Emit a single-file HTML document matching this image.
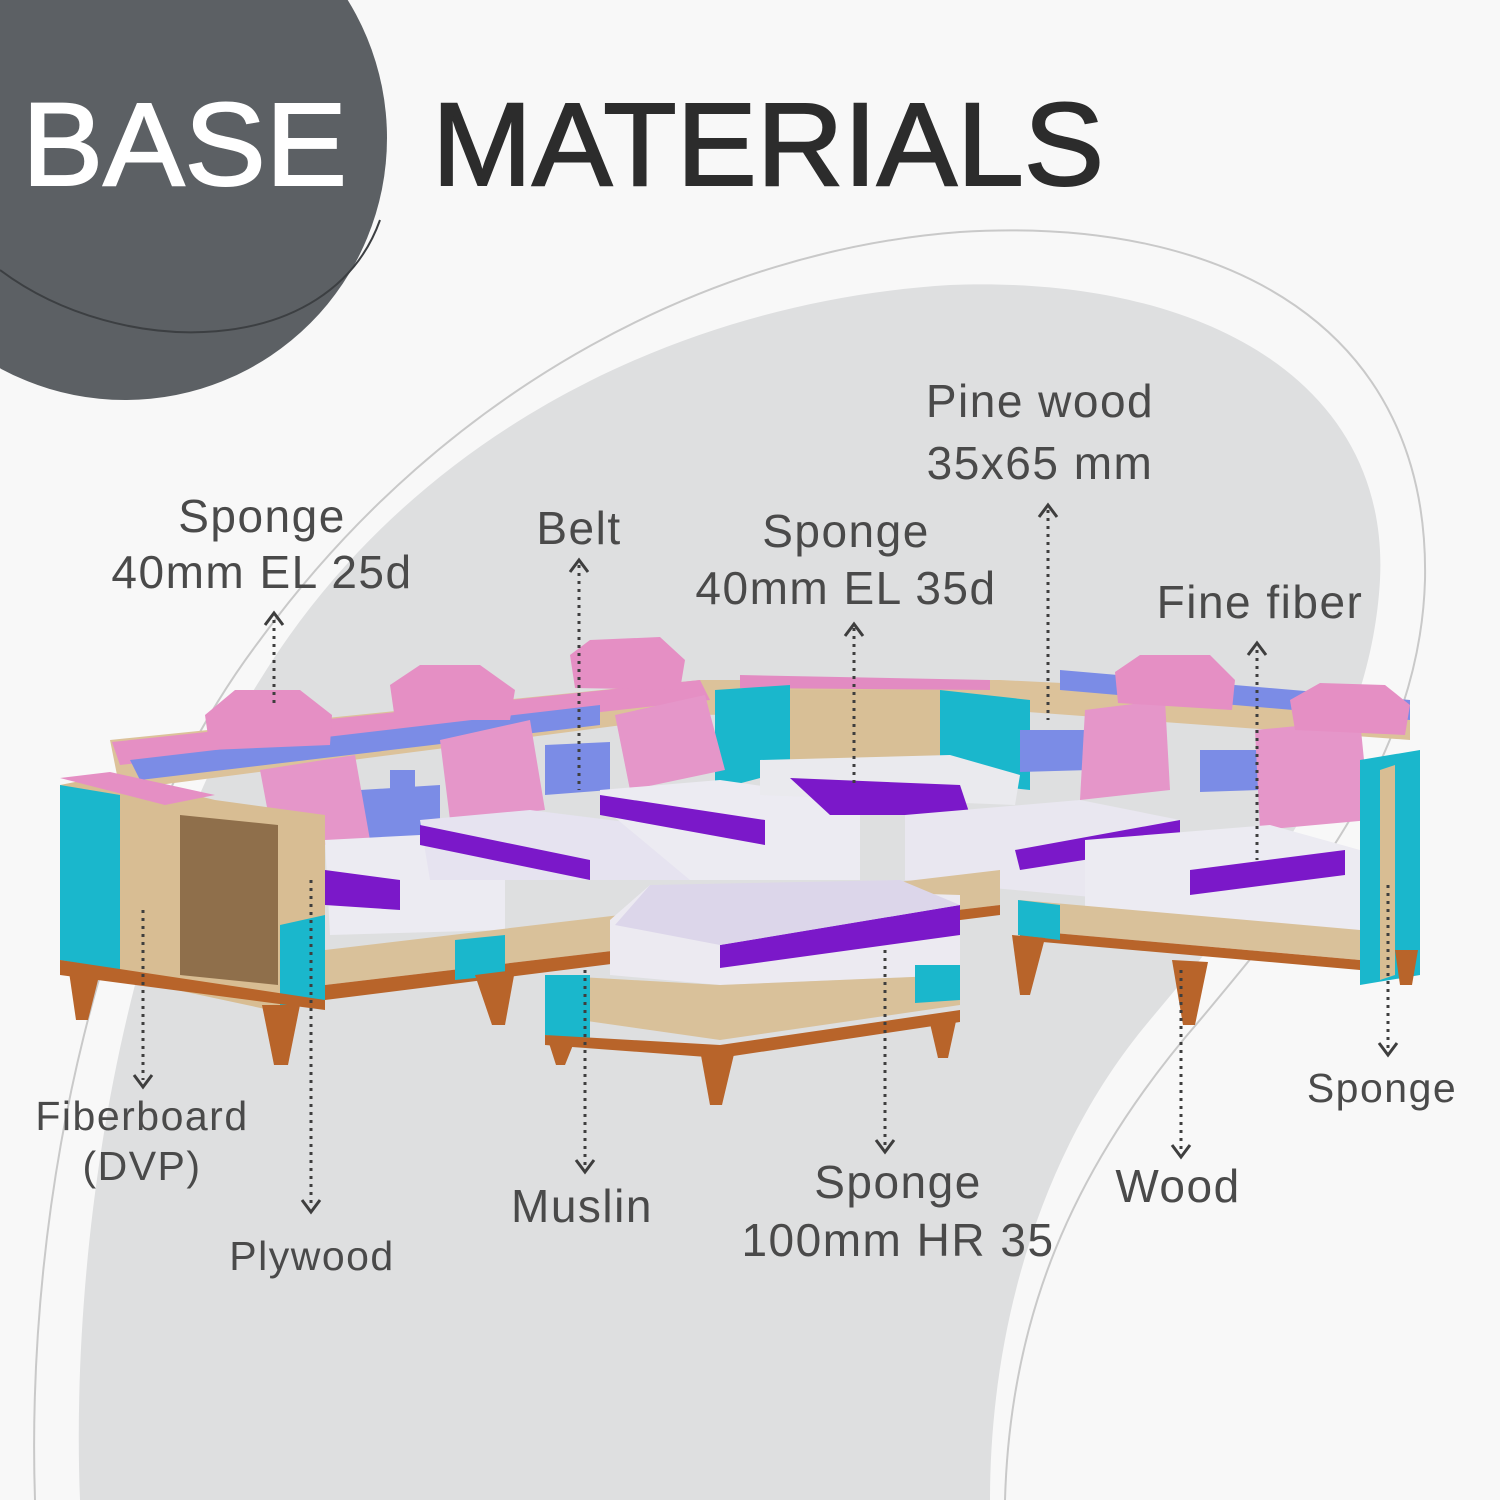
<!DOCTYPE html>
<html><head><meta charset="utf-8"><style>
html,body{margin:0;padding:0;background:#f7f7f7;}
svg{display:block}
text{font-family:"Liberation Sans","DejaVu Sans",sans-serif;}
</style></head><body>
<svg width="1500" height="1500" viewBox="0 0 1500 1500" xmlns="http://www.w3.org/2000/svg">
<rect width="1500" height="1500" fill="#f8f8f8"/>
<path d="M80 1500 C70 1250 120 900 260 680 C420 420 700 300 950 285 C1200 275 1390 380 1380 580 C1370 760 1250 900 1150 1020 C1040 1150 990 1330 990 1500 Z" fill="#dedfe0"/>
<path d="M35 1500 C25 1200 100 850 260 640 C450 380 720 250 960 232 C1230 215 1430 330 1425 580 C1420 760 1300 900 1200 1020 C1070 1170 1010 1320 1005 1500" fill="none" stroke="#c9c9c9" stroke-width="2"/>
<circle cx="125" cy="138" r="262" fill="#5c6064"/>
<path d="M0 270 C120 360 330 360 380 220" fill="none" stroke="#3c3f42" stroke-width="2"/>
<text x="22" y="185" font-size="118" fill="#ffffff" stroke="#ffffff" stroke-width="2" textLength="325" lengthAdjust="spacingAndGlyphs">BASE</text>
<text x="432" y="185" font-size="118" fill="#2c2c2c" stroke="#2c2c2c" stroke-width="2" textLength="672" lengthAdjust="spacingAndGlyphs">MATERIALS</text>

<g>
<polygon points="110,740 700,680 1000,680 1410,700 1410,740 1000,710 700,715 120,790" fill="#dcc29a"/>
<polygon points="112,742 700,680 710,700 120,765" fill="#e58fc4"/>
<polygon points="130,760 600,705 600,725 140,780" fill="#7b8ce6"/>
<polygon points="1060,670 1410,700 1410,720 1060,690" fill="#7b8ce6"/>
<polygon points="740,675 990,680 990,690 740,688" fill="#e28bc2"/>
<polygon points="790,690 940,690 940,770 790,770" fill="#d8bf96"/>
<polygon points="715,690 790,685 790,770 715,790" fill="#1ab7cc"/>
<polygon points="940,690 1030,700 1030,790 940,780" fill="#1ab7cc"/>
<polygon points="360,790 440,785 440,835 360,840" fill="#7b8ce6"/>
<polygon points="390,770 415,770 415,860 390,860" fill="#7b8ce6"/>
<polygon points="545,745 610,742 610,790 545,795" fill="#7b8ce6"/>
<polygon points="1020,730 1090,730 1090,770 1020,772" fill="#7b8ce6"/>
<polygon points="1200,750 1260,750 1260,790 1200,792" fill="#7b8ce6"/>
<polygon points="260,770 355,755 370,840 275,850" fill="#e596c9"/>
<polygon points="440,740 530,720 545,810 450,820" fill="#e596c9"/>
<polygon points="615,715 705,695 725,770 630,790" fill="#e596c9"/>
<polygon points="1085,710 1165,700 1170,790 1080,800" fill="#e596c9"/>
<polygon points="1255,730 1360,720 1370,820 1260,830" fill="#e596c9"/>
<polygon points="205,715 235,690 300,690 332,715 330,745 210,750" fill="#e58fc4"/>
<polygon points="390,685 420,665 480,665 515,690 510,720 395,720" fill="#e58fc4"/>
<polygon points="570,655 590,640 660,637 685,660 680,690 575,688" fill="#e58fc4"/>
<polygon points="1115,672 1140,655 1210,655 1235,680 1232,710 1118,703" fill="#e58fc4"/>
<polygon points="1290,700 1320,683 1385,685 1410,705 1405,735 1295,730" fill="#e58fc4"/>
<polygon points="325,840 420,835 505,875 505,930 330,935" fill="#ecebf2"/>
<polygon points="325,870 400,880 400,910 325,905" fill="#7b18c9"/>
<polygon points="420,820 530,810 690,830 690,880 430,880" fill="#e6e3f0"/>
<polygon points="420,825 590,860 590,880 420,845" fill="#7b18c9"/>
<polygon points="600,790 720,780 860,800 860,880 690,880 600,805" fill="#ecebf2"/>
<polygon points="600,795 765,820 765,845 600,815" fill="#7b18c9"/>
<polygon points="760,760 950,755 1020,775 1015,805 760,795" fill="#eaeaee"/>
<polygon points="790,778 960,785 970,815 830,815" fill="#7b18c9"/>
<polygon points="905,815 1080,800 1180,820 1180,905 905,880" fill="#e9e7f0"/>
<polygon points="1015,850 1180,820 1180,845 1020,870" fill="#7b18c9"/>
<polygon points="1085,840 1270,825 1360,850 1360,930 1085,925" fill="#ecebf2"/>
<polygon points="1190,870 1345,850 1345,875 1190,895" fill="#7b18c9"/>
<polygon points="60,785 110,775 215,800 325,815 325,1000 270,1010 60,965" fill="#d8bd93"/>
<polygon points="60,778 110,772 215,795 165,805" fill="#e58fc4"/>
<polygon points="60,785 120,795 120,970 60,960" fill="#1ab7cc"/>
<polygon points="180,815 278,825 278,985 180,975" fill="#8f6f4b"/>
<polygon points="280,925 325,915 325,1000 280,1008" fill="#1ab7cc"/>
<polygon points="325,950 1000,870 1000,905 325,985" fill="#d9c19a"/>
<polygon points="325,985 1000,905 1000,915 325,1000" fill="#b8642a"/>
<polygon points="60,960 325,1000 325,1010 60,975" fill="#b8642a"/>
<polygon points="455,940 505,935 505,975 455,980" fill="#1ab7cc"/>
<polygon points="1020,900 1360,930 1360,960 1020,930" fill="#d9c19a"/>
<polygon points="1020,930 1360,960 1360,970 1020,940" fill="#b8642a"/>
<polygon points="1018,900 1060,905 1060,940 1018,935" fill="#1ab7cc"/>
<polygon points="1360,760 1420,750 1420,975 1360,985" fill="#1ab7cc"/>
<polygon points="1380,770 1395,765 1395,975 1380,980" fill="#d8bd93"/>
<polygon points="68,965 100,972 88,1020 76,1020" fill="#b8642a"/>
<polygon points="262,1005 300,1005 288,1065 274,1065" fill="#b8642a"/>
<polygon points="475,975 515,970 505,1025 492,1025" fill="#b8642a"/>
<polygon points="1012,935 1045,938 1030,995 1020,995" fill="#b8642a"/>
<polygon points="1172,960 1208,962 1195,1025 1183,1025" fill="#b8642a"/>
<polygon points="1395,950 1418,950 1412,985 1400,985" fill="#b8642a"/>
<polygon points="610,920 650,885 960,895 960,975 720,985 610,975" fill="#eceaf1"/>
<polygon points="720,945 960,905 960,935 720,968" fill="#7b18c9"/>
<polygon points="650,885 900,880 960,905 720,945 615,925" fill="#dcd6ea"/>
<polygon points="545,975 720,985 960,975 960,1005 720,1040 545,1015" fill="#d9c19a"/>
<polygon points="545,975 590,975 590,1040 545,1035" fill="#1ab7cc"/>
<polygon points="915,965 960,965 960,1000 915,1003" fill="#1ab7cc"/>
<polygon points="545,1035 720,1045 960,1010 960,1022 720,1058 545,1045" fill="#b8642a"/>
<polygon points="548,1040 575,1040 565,1065 556,1065" fill="#b8642a"/>
<polygon points="700,1050 735,1050 722,1105 710,1105" fill="#b8642a"/>
<polygon points="928,1015 958,1012 948,1058 938,1058" fill="#b8642a"/>
</g>

<g stroke="#3e3e3e" stroke-width="3" stroke-dasharray="3 5" fill="none">
<line x1="274" y1="620" x2="274" y2="705"/>
<line x1="579" y1="565" x2="579" y2="790"/>
<line x1="854" y1="628" x2="854" y2="785"/>
<line x1="1048" y1="510" x2="1048" y2="720"/>
<line x1="1257" y1="650" x2="1257" y2="860"/>
<line x1="143" y1="910" x2="143" y2="1080"/>
<line x1="311" y1="880" x2="311" y2="1205"/>
<line x1="585" y1="970" x2="585" y2="1165"/>
<line x1="885" y1="950" x2="885" y2="1145"/>
<line x1="1181" y1="970" x2="1181" y2="1150"/>
<line x1="1388" y1="885" x2="1388" y2="1048"/>
</g>
<g stroke="#3e3e3e" stroke-width="3" fill="none">
<polyline points="265,625 274,613 283,625"/>
<polyline points="570,572 579,560 588,572"/>
<polyline points="845,636 854,624 863,636"/>
<polyline points="1039,517 1048,505 1057,517"/>
<polyline points="1248,655 1257,643 1266,655"/>
<polyline points="134,1075 143,1087 152,1075"/>
<polyline points="302,1200 311,1212 320,1200"/>
<polyline points="576,1160 585,1172 594,1160"/>
<polyline points="876,1140 885,1152 894,1140"/>
<polyline points="1172,1145 1181,1157 1190,1145"/>
<polyline points="1379,1043 1388,1055 1397,1043"/>
</g>

<g fill="#4a4a4a" font-size="46" text-anchor="middle" letter-spacing="1.5">
<text x="262" y="532">Sponge</text>
<text x="262" y="588">40mm EL 25d</text>
<text x="579" y="544">Belt</text>
<text x="846" y="547">Sponge</text>
<text x="846" y="604">40mm EL 35d</text>
<text x="1040" y="417">Pine wood</text>
<text x="1040" y="479">35x65 mm</text>
<text x="1260" y="618">Fine fiber</text>
<text x="142" y="1130" font-size="41">Fiberboard</text>
<text x="142" y="1180" font-size="41">(DVP)</text>
<text x="312" y="1270" font-size="41">Plywood</text>
<text x="582" y="1222">Muslin</text>
<text x="898" y="1198">Sponge</text>
<text x="898" y="1256">100mm HR 35</text>
<text x="1178" y="1202">Wood</text>
<text x="1382" y="1102" font-size="41">Sponge</text>
</g>
</svg>
</body></html>
